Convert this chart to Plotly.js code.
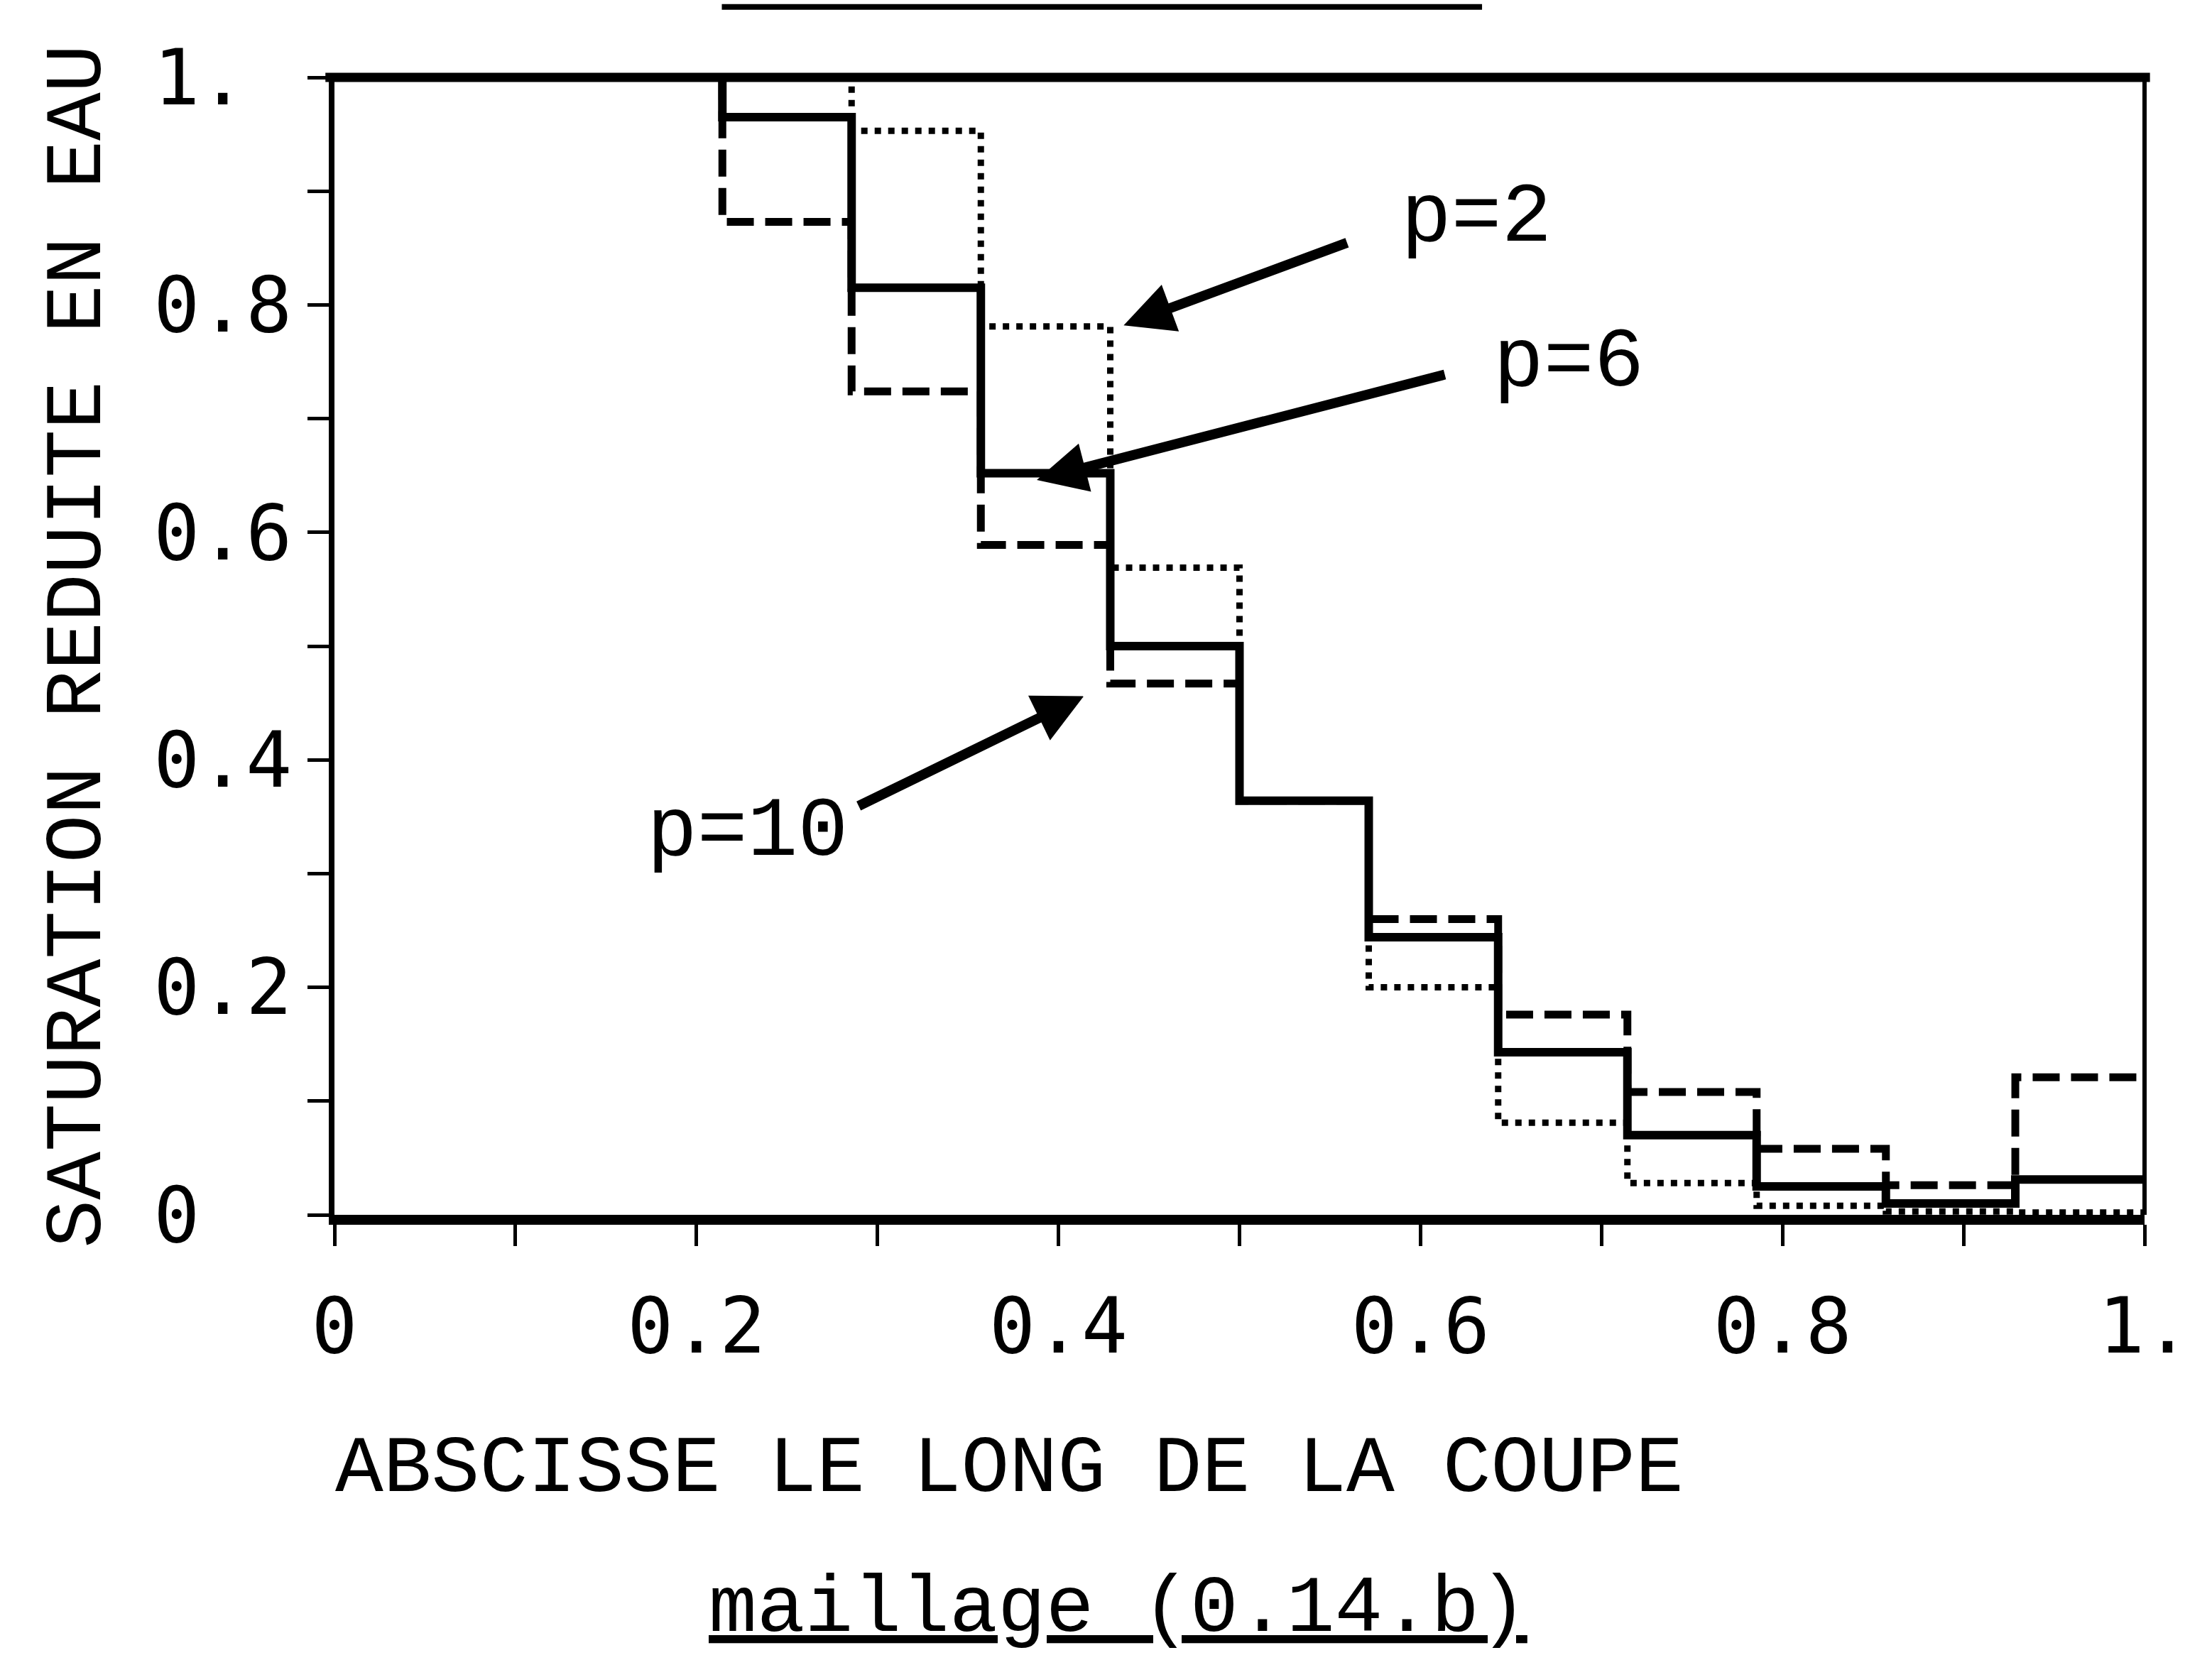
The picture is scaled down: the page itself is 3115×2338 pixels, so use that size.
<!DOCTYPE html>
<html>
<head>
<meta charset="utf-8">
<script src="https://cdn.plot.ly/plotly-3.0.1.min.js"></script>
<style>
html, body { margin: 0; padding: 0; background: #ffffff; }
#chart { width: 3115px; height: 2338px; }
</style>
</head>
<body>
<div id="chart"></div>
<script>
// Mesh cell edges along the cross-section (14 cells)
const cellEdges = [0, 0.0714, 0.1429, 0.2143, 0.2857, 0.3571, 0.4286, 0.5, 0.5714, 0.6429, 0.7143, 0.7857, 0.8571, 0.9286, 1.0];

// Reduced water saturation per cell
const satP2  = [1, 1, 1, 1.000, 0.953, 0.781, 0.569, 0.364, 0.200, 0.081, 0.028, 0.008, 0.003, 0.002];
const satP6  = [1, 1, 1, 0.965, 0.815, 0.652, 0.500, 0.364, 0.244, 0.143, 0.070, 0.025, 0.010, 0.031];
const satP10 = [1, 1, 1, 0.873, 0.724, 0.589, 0.467, 0.364, 0.260, 0.176, 0.108, 0.058, 0.026, 0.121];

const seriesNames = ["p=2", "p=6", "p=10"];

const xTickVals = [0, 0.2, 0.4, 0.6, 0.8, 1.0];
const xTickText = ["0", "0.2", "0.4", "0.6", "0.8", "1."];
const yTickVals = [0, 0.2, 0.4, 0.6, 0.8, 1.0];
const yTickText = ["0\u00a0\u00a0", "0.2", "0.4", "0.6", "0.8", "1.\u00a0"];

const xTitle = "ABSCISSE LE LONG DE LA COUPE";
const yTitle = "SATURATION REDUITE EN EAU";
const caption = "maillage (0.14.b)";

function stepY(vals) { return vals.concat([vals[vals.length - 1]]); }

const traces = [
  { x: cellEdges, y: stepY(satP2), name: seriesNames[0], type: "scatter", mode: "lines",
    line: { shape: "hv", color: "#000", width: 9, dash: "9px,10px" } },
  { x: cellEdges, y: stepY(satP10), name: seriesNames[2], type: "scatter", mode: "lines",
    line: { shape: "hv", color: "#000", width: 11, dash: "38px,16px" } },
  { x: cellEdges, y: stepY(satP6), name: seriesNames[1], type: "scatter", mode: "lines",
    line: { shape: "hv", color: "#000", width: 12 } }
];

const monoFont = "Liberation Mono, Courier New, monospace";
const tickFont = { family: "DejaVu Sans Mono, monospace", size: 108, color: "#000" };

const layout = {
  width: 3115, height: 2338,
  margin: { l: 471, r: 95, t: 109, b: 627 },
  paper_bgcolor: "#ffffff", plot_bgcolor: "#ffffff",
  showlegend: false,
  xaxis: {
    range: [0, 1], showgrid: false, zeroline: false,
    showline: true, linecolor: "#000", linewidth: 14,
    ticks: "outside", ticklen: 30, tickwidth: 5, tickcolor: "#000",
    tickmode: "array", tickvals: xTickVals, ticktext: xTickText,
    minor: { dtick: 0.1, tick0: 0, ticks: "outside", ticklen: 30, tickwidth: 5, tickcolor: "#000", showgrid: false },
    tickfont: tickFont, ticklabelstandoff: 20
  },
  yaxis: {
    range: [0, 1], showgrid: false, zeroline: false,
    showline: true, linecolor: "#000", linewidth: 8,
    ticks: "outside", ticklen: 30, tickwidth: 5, tickcolor: "#000",
    tickmode: "array", tickvals: yTickVals, ticktext: yTickText,
    minor: { dtick: 0.1, tick0: 0, ticks: "outside", ticklen: 30, tickwidth: 5, tickcolor: "#000", showgrid: false },
    tickfont: tickFont, ticklabelstandoff: 0,
    automargin: false,
    title: { text: yTitle, font: { family: monoFont, size: 113, color: "#000" }, standoff: 40 }
  },
  shapes: [
    { type: "line", xref: "paper", yref: "paper", x0: -0.005, x1: 1.003, y0: 1, y1: 1, line: { color: "#000", width: 13 } },
    { type: "line", xref: "paper", yref: "paper", x0: 1, x1: 1, y0: 0, y1: 1, line: { color: "#000", width: 6 } },
    { type: "line", xref: "paper", yref: "paper", x0: 0.214, x1: 0.634, y0: 1.062, y1: 1.062, line: { color: "#000", width: 8 } }
  ],
  annotations: [
    { xref: "paper", yref: "paper", x: 0.3727, y: -0.224, text: xTitle, showarrow: false,
      xanchor: "center", yanchor: "middle", font: { family: monoFont, size: 113, color: "#000" } },
    { xref: "paper", yref: "paper", x: 0.433, y: -0.347, text: "<u>" + caption + "</u>", showarrow: false,
      xanchor: "center", yanchor: "middle", font: { family: monoFont, size: 113, color: "#000" } },
    // labels
    { xref: "x", yref: "y", x: 0.631, y: 0.876, text: seriesNames[0], showarrow: false,
      font: { family: monoFont, size: 118, color: "#000" } },
    { xref: "x", yref: "y", x: 0.682, y: 0.749, text: seriesNames[1], showarrow: false,
      font: { family: monoFont, size: 118, color: "#000" } },
    { xref: "x", yref: "y", x: 0.228, y: 0.336, text: seriesNames[2], showarrow: false,
      font: { family: monoFont, size: 118, color: "#000" } },
    // arrows
    { xref: "x", yref: "y", axref: "x", ayref: "y", x: 0.436, y: 0.782, ax: 0.560, ay: 0.855,
      text: "", showarrow: true, arrowhead: 2, arrowsize: 1, arrowwidth: 14, arrowcolor: "#000" },
    { xref: "x", yref: "y", axref: "x", ayref: "y", x: 0.388, y: 0.646, ax: 0.614, ay: 0.739,
      text: "", showarrow: true, arrowhead: 2, arrowsize: 1, arrowwidth: 14, arrowcolor: "#000" },
    { xref: "x", yref: "y", axref: "x", ayref: "y", x: 0.414, y: 0.456, ax: 0.289, ay: 0.359,
      text: "", showarrow: true, arrowhead: 2, arrowsize: 1, arrowwidth: 14, arrowcolor: "#000" }
  ]
};

Plotly.newPlot("chart", traces, layout, { staticPlot: true, displayModeBar: false });
</script>
</body>
</html>
